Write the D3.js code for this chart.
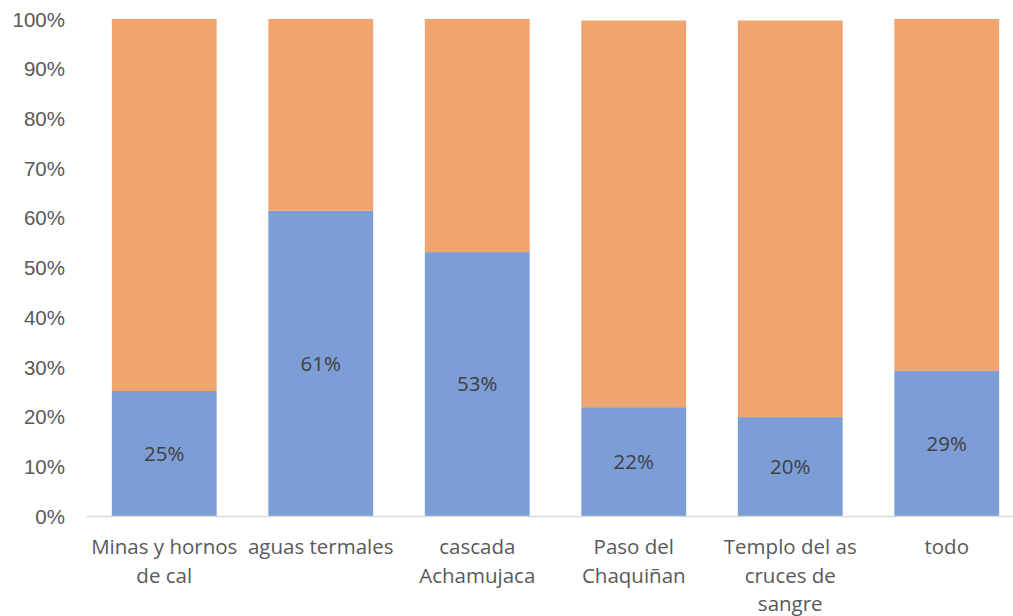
<!DOCTYPE html>
<meta charset="utf-8">
<style>
  body { margin: 0; background: #fff; }
  svg { font-family: "Open Sans", Lato, "Liberation Sans", sans-serif; }
  .tick text { fill: #595959; font-size: 20.5px; }
  .lbl { fill: #404040; font-size: 20.5px; }
</style>
<body>
<svg id="chart" width="1013" height="616"></svg>
<script src="https://d3js.org/d3.v7.min.js"></script>
<script>
// categories (line breaks as in the picture)
var categories = [
  ["Minas y hornos", "de cal"],
  ["aguas termales"],
  ["cascada", "Achamujaca"],
  ["Paso del", "Chaquiñan"],
  ["Templo del as", "cruces de", "sangre"],
  ["todo"]
];
var blueValues   = [0.2515, 0.614, 0.531, 0.219, 0.199, 0.292];
var orangeValues = [0.7485, 0.386, 0.469, 0.778, 0.798, 0.708];
var blueLabels   = ["25%", "61%", "53%", "22%", "20%", "29%"];
var yTicks = [0, 0.1, 0.2, 0.3, 0.4, 0.5, 0.6, 0.7, 0.8, 0.9, 1];

var svg = d3.select("#chart");
var mLeft = 86, mRight = 1025, mTop = 19, mBottom = 516;

var x = d3.scaleBand().domain(d3.range(categories.length))
  .range([mLeft, mRight]).paddingInner(0.33).paddingOuter(0.165);
var y = d3.scaleLinear().domain([0, 1]).range([mBottom, mTop]);

// y axis labels only
var yAxis = svg.append("g").attr("transform", "translate(" + mLeft + ",0)")
  .call(d3.axisLeft(y).tickValues(yTicks).tickFormat(d3.format(".0%")).tickSize(0).tickPadding(21));
yAxis.select(".domain").remove();
yAxis.selectAll("text").attr("dy", "0.35em");

// bars
var g = svg.append("g");
g.selectAll("rect.blue").data(blueValues).enter().append("rect")
  .attr("x", function (d, i) { return x(i); })
  .attr("width", x.bandwidth())
  .attr("y", function (d) { return y(d); })
  .attr("height", function (d) { return y(0) - y(d); })
  .attr("fill", "#7c9dd5");
g.selectAll("rect.orange").data(orangeValues).enter().append("rect")
  .attr("x", function (d, i) { return x(i); })
  .attr("width", x.bandwidth())
  .attr("y", function (d, i) { return y(blueValues[i] + d); })
  .attr("height", function (d) { return y(0) - y(d); })
  .attr("fill", "#f0a56f");

// data labels
g.selectAll("text.lbl").data(blueValues).enter().append("text")
  .attr("class", "lbl")
  .attr("text-anchor", "middle")
  .attr("dy", "0.35em")
  .attr("x", function (d, i) { return x(i) + x.bandwidth() / 2; })
  .attr("y", function (d) { return y(d / 2); })
  .text(function (d, i) { return blueLabels[i]; });

// x axis line
svg.append("line").attr("x1", mLeft).attr("x2", mRight).attr("y1", mBottom + 0.5).attr("y2", mBottom + 0.5)
  .attr("stroke", "#d9d9d9").attr("stroke-width", 1.3);

// category labels
var cat = svg.append("g").attr("class", "tick");
cat.selectAll("text").data(categories).enter().append("text")
  .attr("text-anchor", "middle")
  .attr("x", function (d, i) { return x(i) + x.bandwidth() / 2; })
  .attr("y", 554)
  .each(function (lines) {
    var t = d3.select(this), cx = t.attr("x");
    lines.forEach(function (l, k) {
      t.append("tspan").attr("x", cx).attr("dy", k === 0 ? 0 : 28.5).text(l);
    });
  });
</script>
</body>
